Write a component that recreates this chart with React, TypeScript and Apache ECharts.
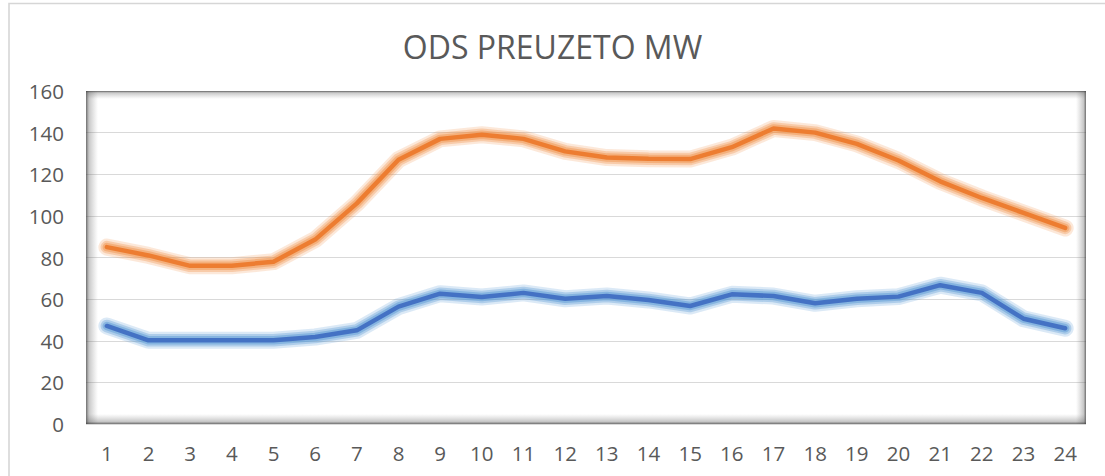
import React, { useEffect, useRef } from "react";
import * as echarts from "echarts";

const hours = ["1","2","3","4","5","6","7","8","9","10","11","12","13","14","15","16","17","18","19","20","21","22","23","24"];
const orangeSeries = [85, 81, 76, 76, 78, 88.6, 106, 127, 137, 139, 137, 131, 128, 127.4, 127.3, 133, 142, 140, 134.6, 126.6, 116.6, 108.6, 101.4, 94.2];
const blueSeries = [47.1, 40.2, 40.2, 40.2, 40.2, 41.8, 45, 56.4, 62.6, 61, 63, 60.2, 61.5, 59.6, 56.7, 62.3, 61.5, 58, 60.2, 61.2, 66.7, 63, 50.6, 46];
const yTicks = { min: 0, max: 160, interval: 20 };
const title = "ODS PREUZETO MW";

const L = 86, T = 91, R = 1086, B = 424;

function grad(x: number, y: number, x2: number, y2: number, a: number) {
  return new echarts.graphic.LinearGradient(x, y, x2, y2, [
    { offset: 0, color: `rgba(60,60,60,${a})` },
    { offset: 0.25, color: `rgba(90,90,90,${a * 0.45})` },
    { offset: 1, color: "rgba(120,120,120,0)" },
  ]);
}

function glowLayers(data: number[], main: string, glowRgb: string) {
  const base = { type: "line", data, showSymbol: false, silent: true };
  return [
    { ...base, z: 2, lineStyle: { color: `rgba(${glowRgb},0.22)`, width: 17, cap: "round", join: "round" } },
    { ...base, z: 2, lineStyle: { color: `rgba(${glowRgb},0.35)`, width: 12.5, cap: "round", join: "round" } },
    { ...base, z: 2, lineStyle: { color: `rgba(${glowRgb},0.5)`, width: 8.5, cap: "round", join: "round" } },
    { ...base, z: 3, lineStyle: { color: main, width: 4.5, cap: "round", join: "round" } },
  ];
}

export default function App() {
  const ref = useRef<HTMLDivElement>(null);
  useEffect(() => {
    if (!ref.current) return;
    const chart = echarts.init(ref.current, null, { renderer: "svg" });
    const font = "'Open Sans', sans-serif";
    chart.setOption({
      animation: false,
      backgroundColor: "#ffffff",
      title: {
        text: title,
        left: "center",
        top: 25,
        textStyle: { fontFamily: font, fontSize: 32, fontWeight: "normal", color: "#595959" },
      },
      grid: { left: L, top: T, right: 1105 - R, bottom: 476 - B, containLabel: false },
      xAxis: {
        type: "category",
        data: hours,
        boundaryGap: true,
        axisLine: { show: false },
        axisTick: { show: false },
        axisLabel: { fontFamily: font, fontSize: 20.5, color: "#595959", margin: 18 },
      },
      yAxis: {
        type: "value",
        min: yTicks.min,
        max: yTicks.max,
        interval: yTicks.interval,
        axisLine: { show: false },
        axisTick: { show: false },
        splitLine: { lineStyle: { color: "#d9d9d9", width: 1 } },
        axisLabel: { fontFamily: font, fontSize: 20.5, color: "#595959", margin: 22 },
      },
      graphic: [
        { type: "rect", z: -10, shape: { x: 9, y: 3.5, width: 1200, height: 600 }, style: { fill: "none", stroke: "#d6d6d6", lineWidth: 1.6 } },
        { type: "rect", z: 1, shape: { x: L, y: T, width: 12, height: B - T }, style: { fill: grad(0, 0, 1, 0, 0.75) } },
        { type: "rect", z: 1, shape: { x: R - 10, y: T, width: 10, height: B - T }, style: { fill: grad(1, 0, 0, 0, 0.75) } },
        { type: "rect", z: 1, shape: { x: L, y: T, width: R - L, height: 8 }, style: { fill: grad(0, 0, 0, 1, 0.7) } },
        { type: "rect", z: 1, shape: { x: L, y: B - 10, width: R - L, height: 10 }, style: { fill: grad(0, 1, 0, 0, 0.75) } },
      ],
      series: [
        ...glowLayers(orangeSeries, "#ED7D31", "240,150,80"),
        ...glowLayers(blueSeries, "#4472C4", "91,155,213"),
      ],
    });
    return () => chart.dispose();
  }, []);
  return <div ref={ref} style={{ position: "absolute", left: 0, top: 0, width: 1105, height: 476 }} />;
}
